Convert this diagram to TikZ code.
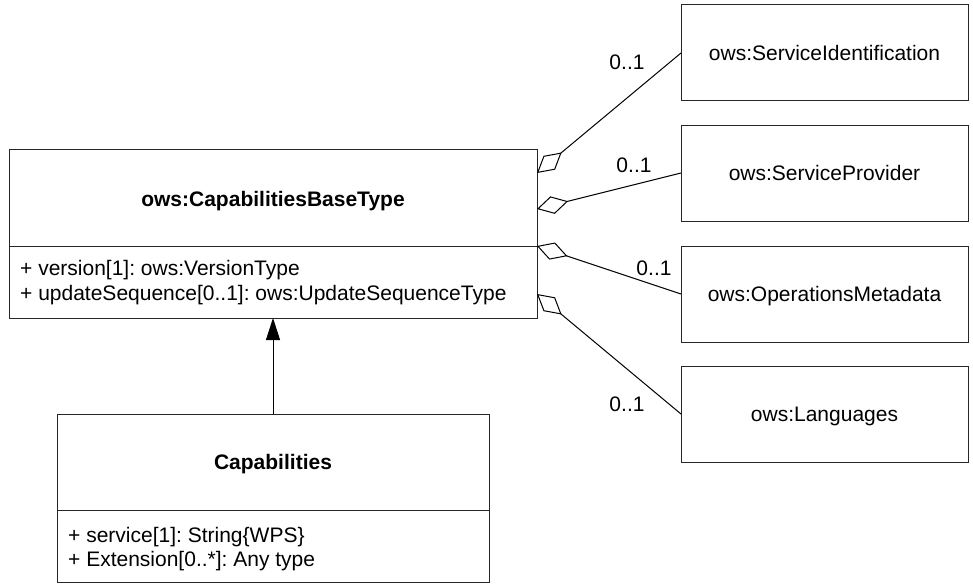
\documentclass[tikz,border=0pt]{standalone}
\usepackage{fontspec}
\setmainfont{Liberation Sans}
\frenchspacing
\usetikzlibrary{arrows.meta}
\begin{document}
\begin{tikzpicture}[x=1pt,y=-1pt,
  box/.style={draw=black!85, line width=1pt, inner sep=0pt, outer sep=0pt, rectangle},
  txt/.style={inner sep=0pt, font=\fontsize{21}{24}\selectfont},
  btxt/.style={inner sep=0pt, font=\fontsize{21}{24}\selectfont\bfseries},
  rbox/.style={box, minimum width=287pt, minimum height=96pt, font=\fontsize{21}{24}\selectfont, text height=15.5pt, text depth=0.5pt},
  divider/.style={draw=black!85, line width=1pt},
  agg/.style={draw=black, line width=1pt, {Diamond[open,length=32pt,width=18pt]}-},
  gen/.style={draw=black, line width=1pt, -{Triangle[length=22pt,width=14pt]}}]
\useasboundingbox (0,0) rectangle (973,583);

% base class
\node[box, minimum width=528pt, minimum height=169pt] (base) at (273,233.5) {};
\node[btxt, anchor=base] (baseT) at (273,206.5) {ows:CapabilitiesBaseType};
\coordinate (bd) at (0,246);
\draw[divider] (base.west |- bd) -- (base.east |- bd);
\node[txt, anchor=base west] (bA1) at (20,275.5) {+ version[1]: ows:VersionType};
\node[txt, anchor=base west] (bA2) at (20,300) {+ updateSequence[0..1]: ows:UpdateSequenceType};

% Capabilities class
\node[box, minimum width=432pt, minimum height=168pt] (caps) at (273,498) {};
\node[btxt, anchor=base] (capsT) at (273,469.5) {Capabilities};
\coordinate (cd) at (0,510);
\draw[divider] (caps.west |- cd) -- (caps.east |- cd);
\node[txt, anchor=base west] (cA1) at (68,542.5) {+ service[1]: String\{WPS\}};
\node[txt, anchor=base west] (cA2) at (68,566.5) {+ Extension[0..*]: Any type};

% generalization
\draw[gen] (caps.north) -- (base.south);

% right boxes
\node[rbox] (si) at (824.5,53) {ows:ServiceIdentification};
\node[rbox] (sp) at (824.5,173) {ows:ServiceProvider};
\node[rbox] (om) at (824.5,294) {ows:OperationsMetadata};
\node[rbox] (la) at (824.5,414) {ows:Languages};

% aggregation ends on base
\coordinate (p1) at (537,173);
\coordinate (p2) at (537,209);
\coordinate (p3) at (537,246);
\coordinate (p4) at (537,294);

\draw[agg] (p1) -- (si.west);
\draw[agg] (p2) -- (sp.west);
\draw[agg] (p3) -- (om.west);
\draw[agg] (p4) -- (la.west);

% multiplicities
\node[txt] (m1) at (627,62) {0..1};
\node[txt] (m2) at (634,165) {0..1};
\node[txt] (m3) at (654,268) {0..1};
\node[txt] (m4) at (627,404) {0..1};
\end{tikzpicture}
\end{document}
